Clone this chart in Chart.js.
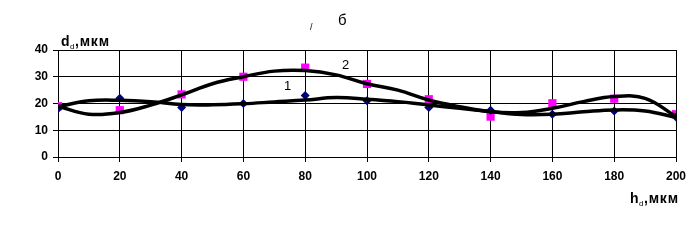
<!DOCTYPE html>
<html><head><meta charset="utf-8">
<script src="https://cdn.jsdelivr.net/npm/chart.js@4"></script>
<style>html,body{margin:0;padding:0;background:#fff}#wrap{width:696px;height:247px}</style>
</head><body><div id="wrap"><canvas id="c" width="696" height="247"></canvas></div>
<script>
const hValues = [0,20,40,60,80,100,120,140,160,180,200];
const series1 = [18,22,18.5,20,23,21,18.5,17.5,16,17.2,15];
const series2 = [19,17.5,23.4,30,33.4,27.3,21.6,15.1,20.1,21.8,16];
const trendX = [0,10,20,30,40,50,60,70,80,90,100,110,120,130,140,150,160,170,180,190,200];
const trend1 = [18.8,21.0,21.2,20.7,19.6,19.5,19.9,20.6,21.3,22.2,21.6,20.7,19.4,18.2,17.0,15.9,16.0,16.9,17.6,17.2,14.8];
const trend2 = [19.0,16.0,16.6,19.4,23.2,27.4,30.0,32.1,32.3,30.7,27.4,25.0,21.3,18.8,16.9,16.6,18.2,20.7,22.6,21.9,15.1];
const xTicks = [0,20,40,60,80,100,120,140,160,180,200];
const yTicks = [0,10,20,30,40];

const pts = (xs, ys) => xs.map((x,i)=>({x:x,y:ys[i]}));
const FF = '"Liberation Sans", Arial, sans-serif';

function drawSub(ctx, x, y, main, sub, rest, size) {
  ctx.font = 'bold ' + size + 'px ' + FF;
  ctx.fillText(main, x, y);
  x += ctx.measureText(main).width + 0.5;
  ctx.font = '8px ' + FF;
  ctx.fillText(sub, x, y + 3);
  x += ctx.measureText(sub).width + 0.5;
  ctx.font = 'bold ' + size + 'px ' + FF;
  ctx.letterSpacing = '0.8px';
  ctx.fillText(rest, x, y);
  ctx.letterSpacing = '0px';
}

const labelsPlugin = {
  id:'labels',
  afterDraw(chart){
    const ctx = chart.ctx;
    ctx.save();
    ctx.fillStyle = '#000';
    ctx.textBaseline = 'alphabetic';
    ctx.font = '15px ' + FF;
    ctx.fillText('б', 338, 25);
    ctx.font = '9px ' + FF;
    ctx.fillText('/', 310, 30);
    ctx.font = '13px ' + FF;
    ctx.fillText('1', 284, 90);
    ctx.fillText('2', 342, 69);
    drawSub(ctx, 61, 46, 'd', 'd', ',мкм', 14);
    drawSub(ctx, 630, 203, 'h', 'd', ',мкм', 14);
    ctx.restore();
  }
};

new Chart(document.getElementById('c'), {
  type:'scatter',
  data:{datasets:[
    {label:'trend1', data:pts(trendX,trend1), showLine:true, borderColor:'#000', borderWidth:3.5, pointRadius:0, tension:0.4, order:0},
    {label:'trend2', data:pts(trendX,trend2), showLine:true, borderColor:'#000', borderWidth:3.5, pointRadius:0, tension:0.4, order:0},
    {label:'1', data:pts(hValues,series1), pointStyle:'rectRot', pointRadius:4.5, backgroundColor:'#000080', borderColor:'#000080', borderWidth:0, order:1},
    {label:'2', data:pts(hValues,series2), pointStyle:'rect', pointRadius:5.8, backgroundColor:'#FF00FF', borderColor:'#FF00FF', borderWidth:0, order:1}
  ]},
  options:{
    responsive:false, animation:false, devicePixelRatio:1,
    layout:{padding:{left:0,right:20,top:50,bottom:0}},
    plugins:{legend:{display:false}, tooltip:{enabled:false}},
    scales:{
      x:{type:'linear', min:0, max:200,
        afterBuildTicks:s=>{s.ticks = xTicks.map(v=>({value:v}));},
        afterFit:s=>{s.height = 90;},
        grid:{color:'#000', lineWidth:1, tickLength:5, drawTicks:true},
        border:{color:'#000', width:1},
        ticks:{color:'#000', padding:7, maxRotation:0, font:{family:FF, size:12, weight:'bold'}}
      },
      y:{type:'linear', min:0, max:40,
        afterBuildTicks:s=>{s.ticks = yTicks.map(v=>({value:v}));},
        afterFit:s=>{s.width = 58;},
        grid:{color:'#000', lineWidth:1, tickLength:5},
        border:{color:'#000', width:1},
        ticks:{color:'#000', padding:5, font:{family:FF, size:12, weight:'bold'}}
      }
    }
  },
  plugins:[labelsPlugin]
});
</script></body></html>
